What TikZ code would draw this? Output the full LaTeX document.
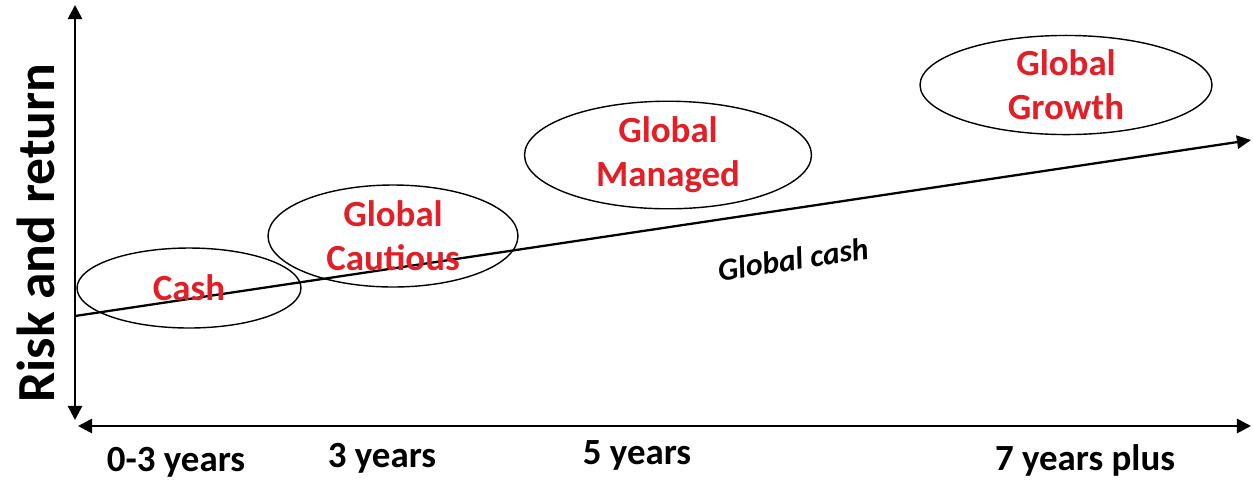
\documentclass[tikz,border=0pt]{standalone}
\usepackage{fontspec}
\setmainfont{Carlito}
\usetikzlibrary{arrows.meta}
\usetikzlibrary{shapes.geometric}

\definecolor{fundred}{RGB}{226,30,38}

\tikzset{
	axis/.style={line width=1.5pt,{Triangle[length=8pt,width=8pt]}-{Triangle[length=8pt,width=8pt]}},
	trend/.style={line width=1.3pt,-{Triangle[length=8pt,width=7.5pt]}},
	fund/.style={draw,ellipse,line width=0.8pt,inner sep=0pt,align=center,text=fundred,
		font=\fontsize{21}{25}\selectfont\bfseries},
	period/.style={font=\fontsize{21}{24}\selectfont\bfseries}
}

\begin{document}
\begin{tikzpicture}[x=0.02cm,y=-0.02cm]
	\useasboundingbox (0,0) rectangle (1253,481);
	% axes
	\coordinate (ytop) at (75,5);
	\coordinate (ybot) at (75,420);
	\coordinate (xleft) at (78,426);
	\coordinate (xright) at (1251,426);
	\draw[axis] (ybot) -- (ytop);
	\draw[axis] (xleft) -- (xright);
	\node[rotate=90,font=\fontsize{30.5}{34}\selectfont\bfseries] (risk) at (36,233) {Risk and return};
	% trend line
	\coordinate (lstart) at (75,316);
	\coordinate (lend) at (1251,140);
	\draw[trend] (lstart) -- (lend);
	\node[rotate=8.5,font=\fontsize{18}{20}\selectfont\bfseries\itshape] (gcash) at (793,259) {Global cash};
	% funds
	\node[fund,minimum width=4.48cm,minimum height=1.6cm] (cash) at (189,288) {Cash};
	\node[fund,minimum width=5.0cm,minimum height=2.04cm] (cautious) at (393,236) {Global\\Cautious};
	\node[fund,minimum width=5.74cm,minimum height=2.0cm] (managed) at (668,155) {Global\\Managed};
	\node[fund,minimum width=5.84cm,minimum height=1.8cm] (growth) at (1066,85) {Global\\Growth};
	% periods
	\node[period] (p1) at (176,462) {0-3 years};
	\node[period] (p2) at (382,458) {3 years};
	\node[period] (p3) at (637,455) {5 years};
	\node[period] (p4) at (1085,460) {7 years plus};
\end{tikzpicture}
\end{document}
